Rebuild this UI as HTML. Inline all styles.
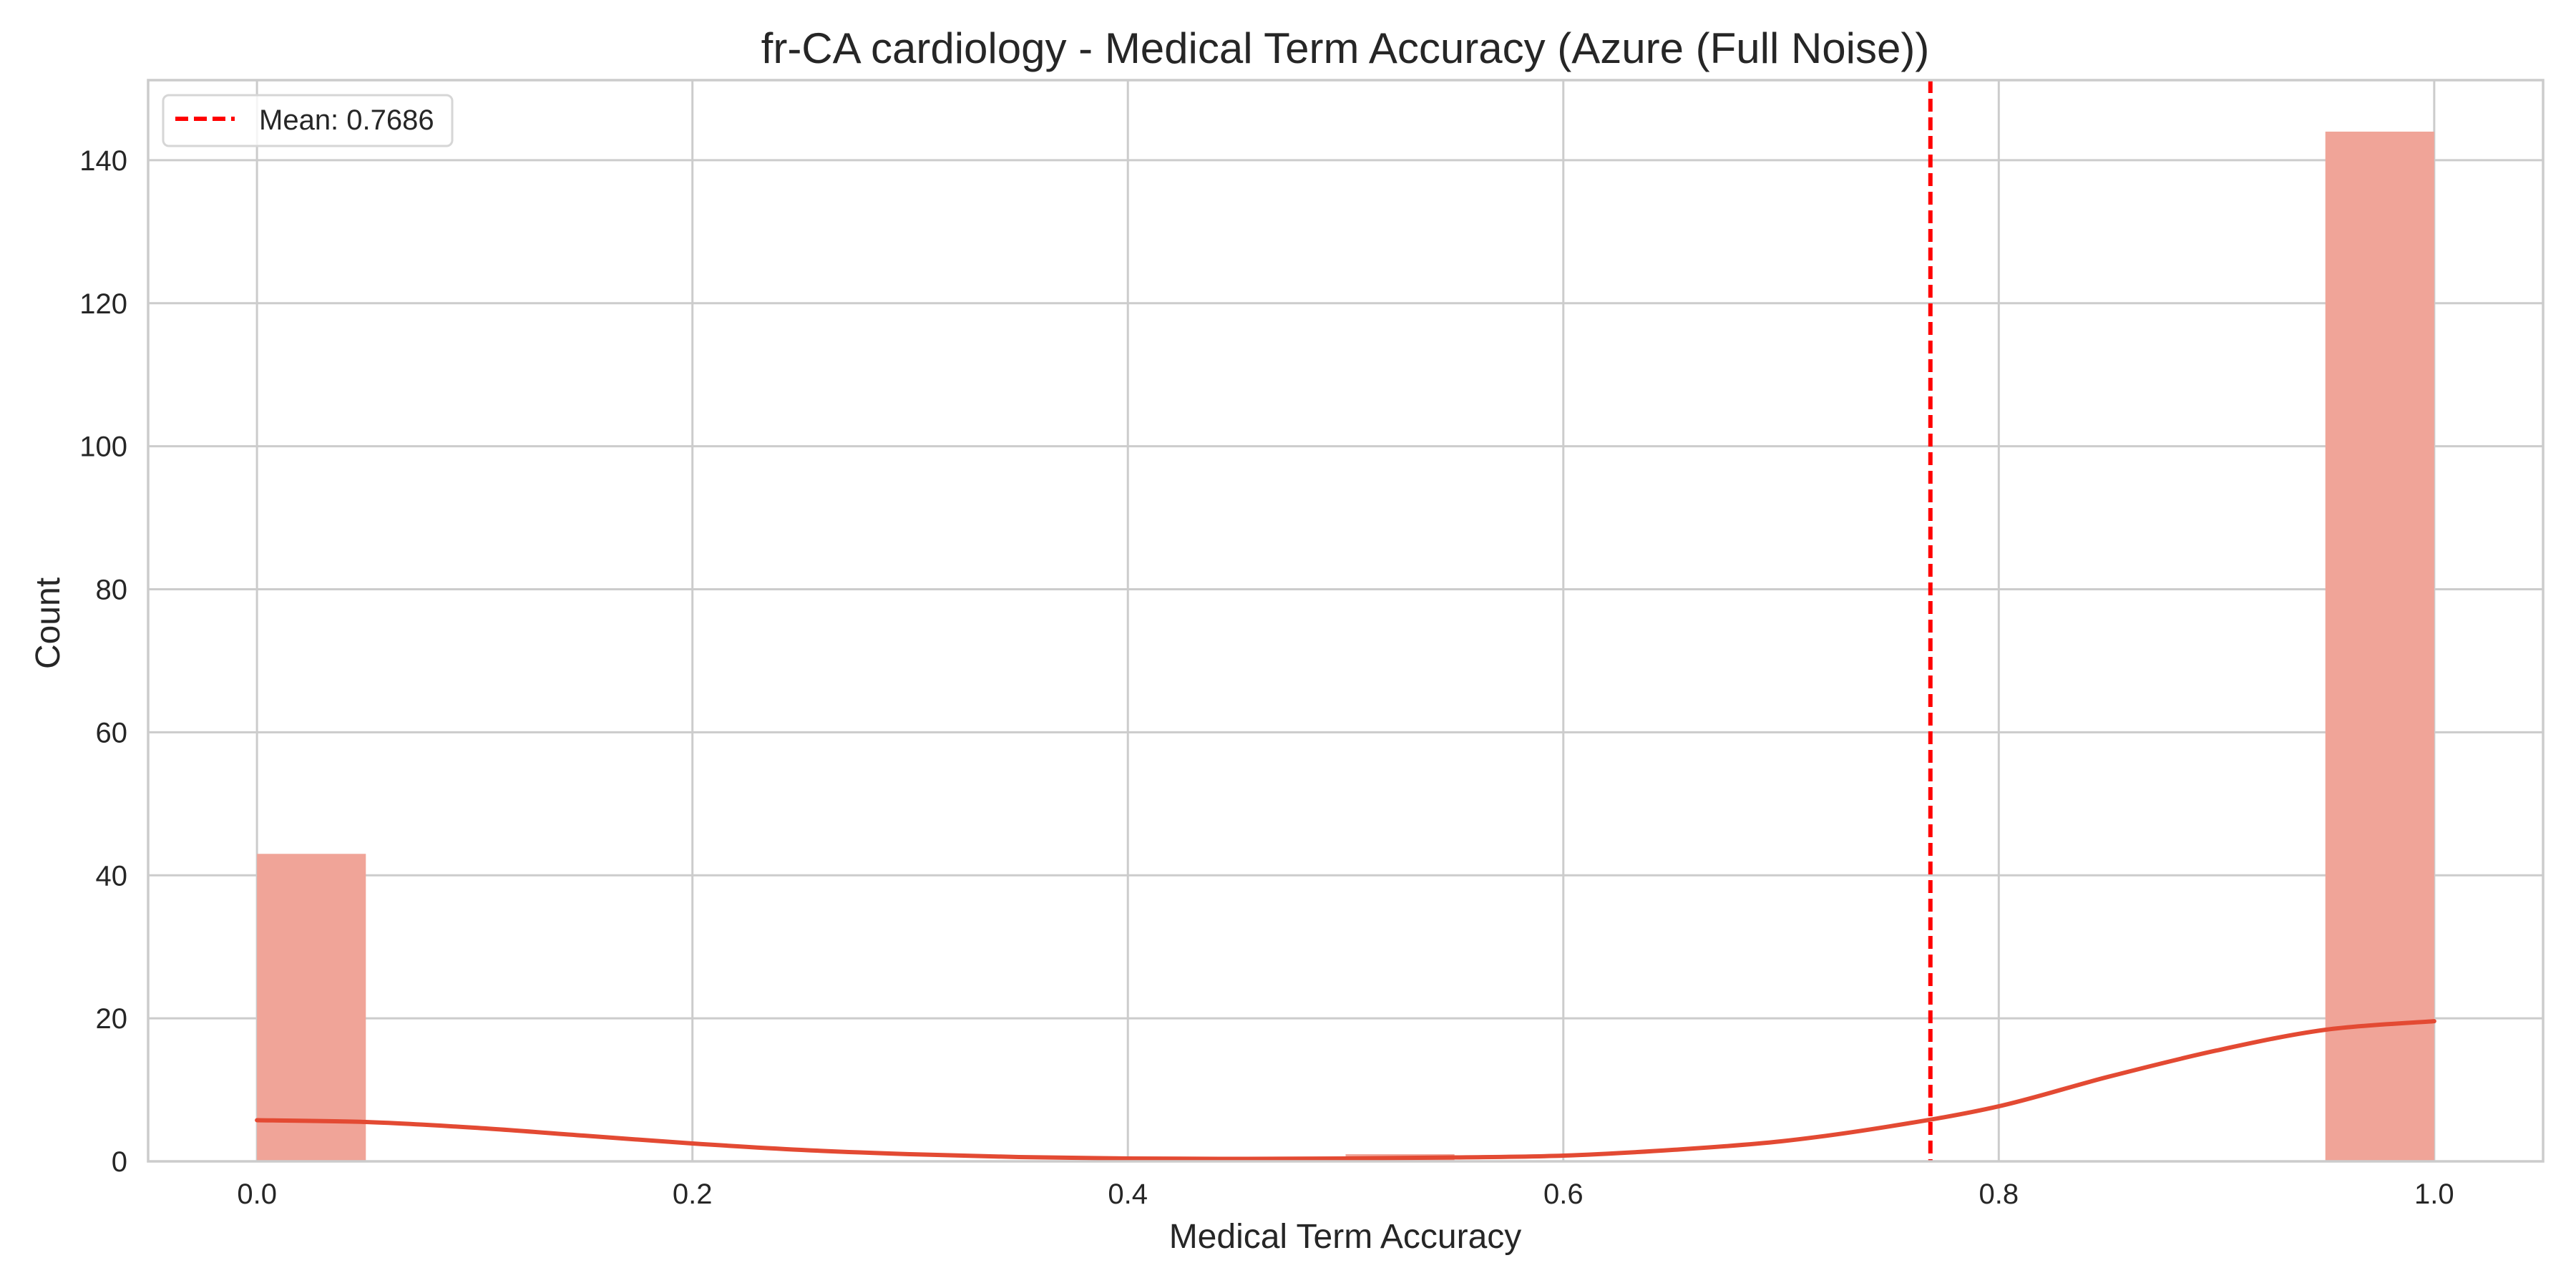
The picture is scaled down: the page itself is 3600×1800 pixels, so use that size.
<!DOCTYPE html>
<html><head><meta charset="utf-8"><style>
html,body{margin:0;padding:0;background:#fff;}
svg{display:block;font-family:"Liberation Sans",Arial,sans-serif;}
</style></head><body>
<svg id="chart" width="3600" height="1800" viewBox="0 0 3600 1800" xmlns="http://www.w3.org/2000/svg">
<rect width="3600" height="1800" fill="#fff"/>
<g id="grid"></g>
<g id="bars"></g>
<g id="kde"></g>
<g id="meanline"></g>
<g id="spines"></g>
<g id="ticks" fill="#262626" font-size="40"></g>
<text x="1880" y="88" font-size="60" fill="#262626" text-anchor="middle">fr-CA cardiology - Medical Term Accuracy (Azure (Full Noise))</text>
<text x="1880" y="1744" font-size="48" fill="#262626" text-anchor="middle">Medical Term Accuracy</text>
<text x="0" y="0" font-size="48" fill="#262626" text-anchor="middle" transform="translate(83,871) rotate(-90)">Count</text>
<g>
<rect x="228" y="133" width="404" height="71" rx="8" fill="#fff" fill-opacity="0.8" stroke="#d6d6d6" stroke-width="3"/>
<line x1="245" y1="166" x2="328" y2="166" stroke="#ff0000" stroke-width="6" stroke-dasharray="18,8"/>
<text x="362" y="181" font-size="40" fill="#262626">Mean: 0.7686</text>
</g>
</svg>
<script>
const binEdgesStart = 0.0;
const binWidth = 0.05;
const binCounts = [43,0,0,0,0,0,0,0,0,0,1,0,0,0,0,0,0,0,0,144];
const kdeX = [0,0.05,0.1,0.15,0.2,0.25,0.3,0.35,0.4,0.45,0.5,0.55,0.6,0.65,0.7,0.75,0.8,0.85,0.9,0.95,1.0];
const kdeY = [5.75,5.5,4.7,3.6,2.5,1.6,1.0,0.6,0.4,0.35,0.4,0.55,0.8,1.6,2.8,4.9,7.7,11.8,15.5,18.4,19.6];
const meanValue = 0.7686;
const xTicks = [0.0,0.2,0.4,0.6,0.8,1.0];
const xTickLabels = ["0.0","0.2","0.4","0.6","0.8","1.0"];
const yTicks = [0,20,40,60,80,100,120,140];
const yTickLabels = ["0","20","40","60","80","100","120","140"];

const L=207,R=3554,T=112,B=1623;
const xMin=-0.05,xMax=1.05,yMin=0,yMax=151.2;
const X=v=>L+(v-xMin)/(xMax-xMin)*(R-L);
const Y=v=>B-(v-yMin)/(yMax-yMin)*(B-T);
const NS="http://www.w3.org/2000/svg";
function mk(tag,attrs,parent){const e=document.createElementNS(NS,tag);for(const k in attrs)e.setAttribute(k,attrs[k]);parent.appendChild(e);return e;}

const grid=document.getElementById('grid');
xTicks.forEach(t=>{const l=mk('line',{x1:X(t),x2:X(t),y1:T,y2:B,stroke:'#cccccc','stroke-width':3},grid);

});
yTicks.forEach(t=>{const l=mk('line',{x1:L,x2:R,y1:Y(t),y2:Y(t),stroke:'#cccccc','stroke-width':3},grid);

});

const bars=document.getElementById('bars');
binCounts.forEach((c,i)=>{if(c<=0)return;const x0=binEdgesStart+i*binWidth;
const r=mk('rect',{x:X(x0),y:Y(c),width:X(x0+binWidth)-X(x0),height:Y(0)-Y(c),fill:'#f0a498'},bars);

});

const kde=document.getElementById('kde');
const pts=kdeX.map((x,i)=>[X(x),Y(kdeY[i])]);
let d='M'+pts[0][0]+','+pts[0][1];
for(let i=0;i<pts.length-1;i++){const p0=pts[Math.max(0,i-1)],p1=pts[i],p2=pts[i+1],p3=pts[Math.min(pts.length-1,i+2)];
const c1=[p1[0]+(p2[0]-p0[0])/6,p1[1]+(p2[1]-p0[1])/6],c2=[p2[0]-(p3[0]-p1[0])/6,p2[1]-(p3[1]-p1[1])/6];
d+=' C'+c1.join(',')+' '+c2.join(',')+' '+p2.join(',');}
const kp=mk('path',{d:d,fill:'none',stroke:'#e34a33','stroke-width':6,'stroke-linecap':'round'},kde);



const ml=mk('line',{x1:X(meanValue),x2:X(meanValue),y1:T,y2:B,stroke:'#ff0000','stroke-width':6,'stroke-dasharray':'18,8'},document.getElementById('meanline'));



const sp=mk('rect',{x:L,y:T,width:R-L,height:B-T,fill:'none',stroke:'#cccccc','stroke-width':3.5},document.getElementById('spines'));



const tk=document.getElementById('ticks');
xTicks.forEach((t,i)=>{const e=mk('text',{x:X(t),y:1682,'text-anchor':'middle'},tk);e.textContent=xTickLabels[i];

});
yTicks.forEach((t,i)=>{const e=mk('text',{x:178,y:Y(t)+14,'text-anchor':'end'},tk);e.textContent=yTickLabels[i];

});
</script>
</body></html>
